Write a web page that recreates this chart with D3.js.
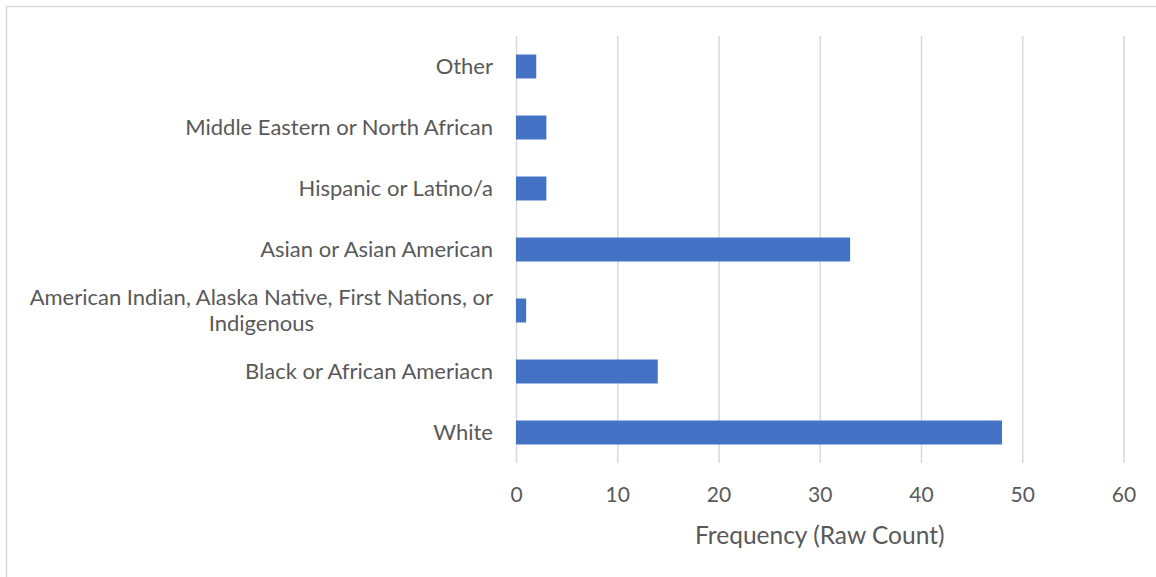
<!DOCTYPE html>
<html>
<head>
<meta charset="utf-8">
<script src="https://cdn.jsdelivr.net/npm/d3@7"></script>
<style>
  body { margin: 0; background: #fff; }
  text { font-family: Lato, "Open Sans", sans-serif; fill: #595959; }
</style>
</head>
<body>
<div id="chart"></div>
<script>
// categories top to bottom, as they appear in the chart
const categories = [
  "Other",
  "Middle Eastern or North African",
  "Hispanic or Latino/a",
  "Asian or Asian American",
  "American Indian, Alaska Native, First Nations, or Indigenous",
  "Black or African Ameriacn",
  "White"
];
const counts = [2, 3, 3, 33, 1, 14, 48];
const xTicks = [0, 10, 20, 30, 40, 50, 60];
const xTitle = "Frequency (Raw Count)";

const W = 1156, H = 577;
const plot = { left: 516, right: 1123.5, top: 36, bottom: 463 };

const svg = d3.select("#chart").append("svg")
  .attr("width", W)
  .attr("height", H);

// outer chart border (right / bottom edges fall outside the picture)
svg.append("rect")
  .attr("x", 6.5).attr("y", 6.5)
  .attr("width", W).attr("height", H)
  .attr("fill", "none")
  .attr("stroke", "#d9d9d9")
  .attr("stroke-width", 1.5);

const x = d3.scaleLinear().domain([0, 60]).range([plot.left, plot.right]);
const y = d3.scaleBand().domain(categories)
  .range([plot.top, plot.bottom])
  .paddingInner(0.607)
  .paddingOuter(0.3035);

// gridlines
const grid = svg.append("g")
  .attr("transform", `translate(0,${plot.bottom})`)
  .call(d3.axisBottom(x).tickValues(xTicks).tickSize(-(plot.bottom - plot.top)).tickFormat(""));
grid.select(".domain").remove();
grid.selectAll(".tick line").attr("stroke", "#d9d9d9").attr("stroke-width", 1.5);

// bars
svg.append("g").selectAll("rect")
  .data(categories)
  .join("rect")
  .attr("x", x(0))
  .attr("y", d => y(d))
  .attr("width", (d, i) => x(counts[i]) - x(0))
  .attr("height", y.bandwidth())
  .attr("fill", "#4472c4");

// x tick labels
const xAxis = svg.append("g")
  .attr("transform", `translate(0,${plot.bottom})`)
  .call(d3.axisBottom(x).tickValues(xTicks).tickSize(0).tickPadding(24));
xAxis.select(".domain").remove();
xAxis.selectAll("text")
  .style("font-size", "21px")
  .attr("fill", "#595959");

// x axis title
svg.append("text")
  .attr("x", (plot.left + plot.right) / 2)
  .attr("y", 535)
  .attr("dy", "0.35em")
  .attr("text-anchor", "middle")
  .style("font-size", "24.5px")
  .text(xTitle);

// category labels, wrapped when wider than the label area
const labelSize = 22;
const labelRight = 493, maxLabel = 476;
const labels = svg.append("g");
categories.forEach(cat => {
  const cy = y(cat) + y.bandwidth() / 2;
  const t = labels.append("text")
    .style("font-size", labelSize + "px")
    .attr("text-anchor", "end")
    .attr("x", labelRight)
    .attr("y", cy)
    .attr("dy", "0.35em")
    .text(cat);
  if (t.node().getComputedTextLength() <= maxLabel) return;
  // split into lines
  const words = cat.split(" ");
  const lines = [];
  let line = [];
  t.text("");
  const probe = labels.append("text").style("font-size", labelSize + "px");
  words.forEach(w => {
    line.push(w);
    probe.text(line.join(" "));
    if (probe.node().getComputedTextLength() > maxLabel && line.length > 1) {
      line.pop();
      lines.push(line.join(" "));
      line = [w];
    }
  });
  lines.push(line.join(" "));
  const widths = lines.map(l => { probe.text(l); return probe.node().getComputedTextLength(); });
  probe.remove();
  const blockW = d3.max(widths);
  const lineH = 26;
  t.attr("text-anchor", "middle");
  lines.forEach((l, i) => {
    t.append("tspan")
      .attr("x", labelRight - blockW / 2)
      .attr("y", cy + (i - (lines.length - 1) / 2) * lineH)
      .attr("dy", "0.35em")
      .text(l);
  });
});
</script>
</body>
</html>
